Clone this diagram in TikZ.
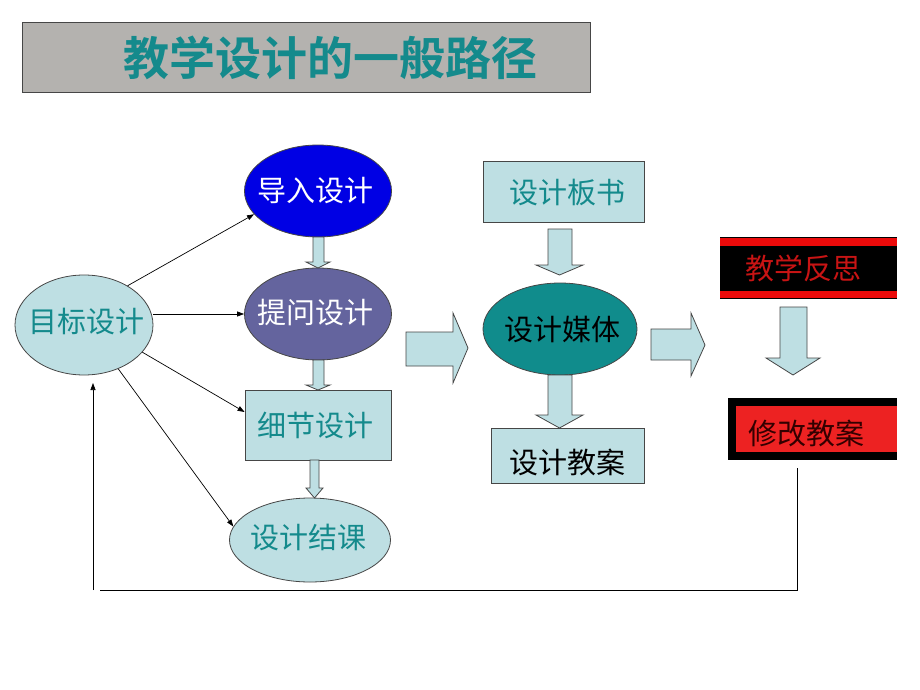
\documentclass[tikz,border=0pt]{standalone}
\usepackage{fontspec}
\newfontfamily\cjk{Noto Sans CJK SC}
\newfontfamily\cjkb{Noto Sans CJK SC Bold}
\usetikzlibrary{shapes.geometric,arrows.meta}
\definecolor{lb}{RGB}{190,223,227}
\definecolor{tealtxt}{RGB}{20,138,140}
\definecolor{tealfill}{RGB}{16,140,140}
\definecolor{titlegray}{RGB}{180,178,175}
\definecolor{bluefill}{RGB}{0,0,228}
\definecolor{purplefill}{RGB}{100,100,158}
\definecolor{redband}{RGB}{235,10,10}
\definecolor{redtxt}{RGB}{200,20,20}
\definecolor{darkedge}{RGB}{70,70,70}
\tikzset{
  lbl/.style={font=\cjk\fontsize{29}{32}\selectfont},
  ell/.style={ellipse, draw=darkedge, line width=0.8pt, inner sep=0pt},
  box/.style={rectangle, draw=darkedge, line width=0.8pt, inner sep=0pt},
  blk/.style={fill=lb, draw=darkedge, line width=0.8pt, line join=miter},
  conn/.style={draw=black, line width=0.7pt, -{Triangle[length=7pt,width=5pt]}},
}
\newcommand\vblk[7]{\draw[blk] (#1,#5) -- (#2,#5) -- (#2,#6) -- (#4,#6) -- ({(#3+#4)/2},#7) -- (#3,#6) -- (#1,#6) -- cycle;}
\begin{document}
\begin{tikzpicture}[x=1pt,y=-1pt]
\useasboundingbox (0,0) rectangle (920,690);
\fill[white] (0,0) rectangle (920,690);
% title
\node[rectangle, fill=titlegray, draw=darkedge, line width=1pt, minimum width=568pt, minimum height=70pt, anchor=north west] (titlebox) at (22,22) {};
\node[font=\cjkb\fontsize{46}{50}\selectfont, text=tealtxt] (title) at (330,58) {教学设计的一般路径};
% left column
\node[ell, fill=lb, minimum width=138pt, minimum height=100pt] (mb) at (84,325) {};
\node[lbl, text=tealtxt] at (86,322) {目标设计};
\node[ell, fill=bluefill, minimum width=147pt, minimum height=92pt] (dr) at (318,191) {};
\node[lbl, text=white] at (315,191) {导入设计};
\node[ell, fill=purplefill, minimum width=147pt, minimum height=92pt] (tw) at (318,314) {};
\node[lbl, text=white] at (315,313) {提问设计};
\node[box, fill=lb, minimum width=146pt, minimum height=70pt] (xj) at (318,425) {};
\node[lbl, text=tealtxt] at (315,425) {细节设计};
\node[ell, fill=lb, minimum width=161pt, minimum height=84pt] (jk) at (310,540) {};
\node[lbl, text=tealtxt] at (308,538) {设计结课};
% block arrows left column
\vblk{313}{324}{306}{330}{237}{262}{268}
\vblk{313}{324}{306}{330}{360}{385}{390}
\vblk{310}{319}{306}{323}{460}{488}{498}
% connectors from 目标设计
\draw[conn] (mb.42) -- (dr.200);
\draw[conn] (mb.east |- tw.west) -- (tw.west);
\draw[conn] (mb.-25) -- (xj.west |- 0,412);
\draw[conn] (mb.-52) -- (jk.170);
% big arrow
\draw[blk] (406,332) -- (453,332) -- (453,313) -- (468,348) -- (453,383) -- (453,366) -- (406,366) -- cycle;
% middle column
\node[box, fill=lb, minimum width=161pt, minimum height=61pt] (bs) at (563.5,191.5) {};
\node[lbl, text=tealtxt] at (567,193) {设计板书};
\node[ell, fill=tealfill, minimum width=154pt, minimum height=92pt] (mt) at (560,329) {};
\node[lbl, text=black] at (562,330) {设计媒体};
\node[box, fill=lb, minimum width=153pt, minimum height=55pt] (ja) at (567.5,455.5) {};
\node[lbl, text=black] at (567,462) {设计教案};
\vblk{548}{572}{536}{583}{229}{265}{275}
\vblk{548}{572}{536}{583}{375}{415}{428}
% second big arrow
\draw[blk] (651,329) -- (691,329) -- (691,313) -- (705,345) -- (691,376) -- (691,360) -- (651,360) -- cycle;
% right column
\node[rectangle, fill=black, minimum width=177pt, minimum height=62pt, inner sep=0pt, anchor=north west] (fs) at (720,237) {};
\fill[redband] (720,238) rectangle (897,245.5);
\fill[redband] (720,290.5) rectangle (897,298);
\node[lbl, text=redtxt] at (803,268) {教学反思};
\vblk{780}{807}{766}{820}{307}{358}{375}
\node[rectangle, fill=black, minimum width=169pt, minimum height=62pt, inner sep=0pt, anchor=north west] (xg) at (728,398) {};
\fill[redband!90!white] (736,406) rectangle (897,452);
\node[lbl, text=black!80!red] at (806,433) {修改教案};
% feedback
\coordinate (fbA) at (797,590);
\coordinate (fbB) at (100,590);
\coordinate (fbC) at (93,590);
\draw[line width=0.7pt] (797,468) -- (fbA) -- (fbB);
\draw[conn] (fbC) -- (93,383);
\end{tikzpicture}
\end{document}
